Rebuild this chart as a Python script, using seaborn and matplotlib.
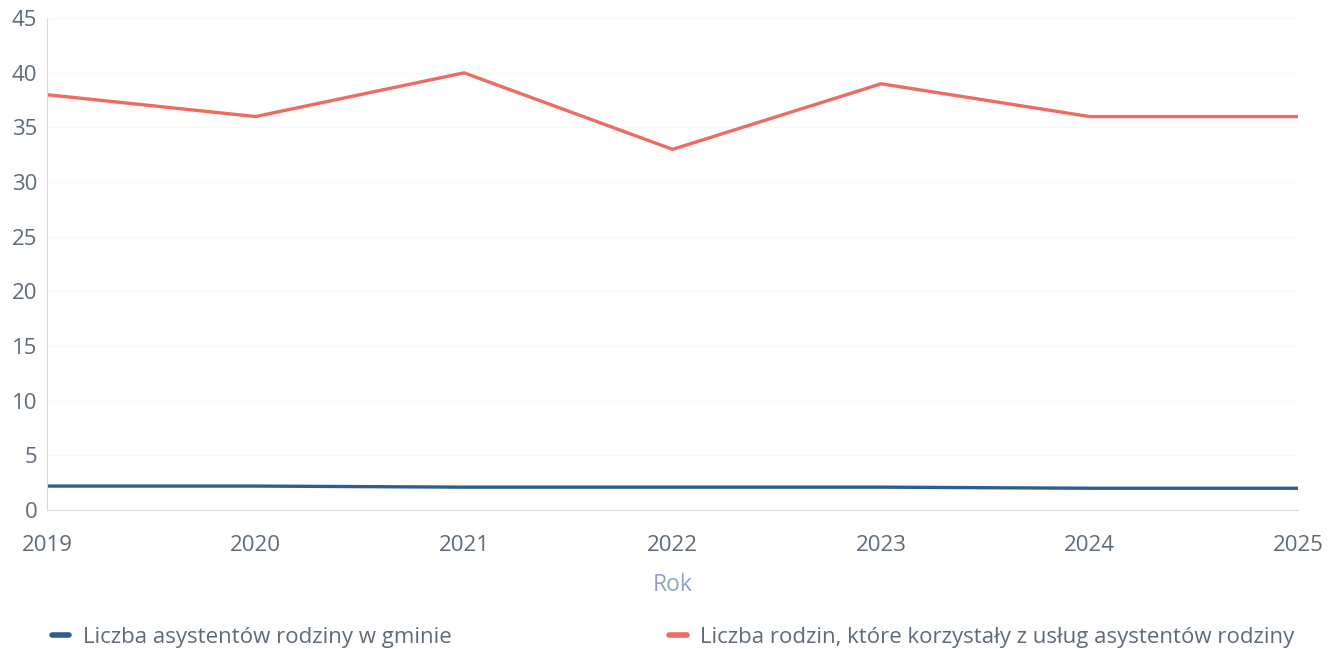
import matplotlib.pyplot as plt
import seaborn as sns
import pandas as pd

years = [2019, 2020, 2021, 2022, 2023, 2024, 2025]
asystenci = [2.2, 2.2, 2.1, 2.1, 2.1, 2.0, 2.0]
rodziny = [38, 36, 40, 33, 39, 36, 36]

label_asyst = "Liczba asystentów rodziny w gminie"
label_rodz = "Liczba rodzin, które korzystały z usług asystentów rodziny"

df = pd.DataFrame({"Rok": years, label_asyst: asystenci, label_rodz: rodziny})
long = df.melt(id_vars="Rok", var_name="Seria", value_name="Wartość")

sns.set_style("white")
plt.rcParams["font.family"] = ["Open Sans", "DejaVu Sans"]

fig = plt.figure(figsize=(13.34, 6.49), dpi=100)
ax = fig.add_axes([0.0352, 0.214, 0.938, 0.758])

palette = {label_asyst: "#2e5f8c", label_rodz: "#ef6a61"}
sns.lineplot(data=long, x="Rok", y="Wartość", hue="Seria", palette=palette,
             linewidth=2.4, ax=ax, legend=False)

ax.set_xlim(2019, 2025)
ax.set_ylim(0, 45)
ax.set_yticks(range(0, 46, 5))
ax.set_xticks(years)
ax.grid(axis="y", color="#f8f8fa", linewidth=1)
ax.tick_params(length=0, labelsize=16, labelcolor="#5d6b7a", pad=7)
ax.tick_params(axis="x", pad=18)
for s in ["top", "right"]:
    ax.spines[s].set_visible(False)
ax.spines["left"].set_color("#d6d8ec")
ax.spines["bottom"].set_color("#dcdde2")

ax.set_ylabel("")
ax.set_xlabel("Rok", fontsize=16.5, color="#8fa2c4", labelpad=12)

handles = [plt.Line2D([], [], color=palette[label_asyst], linewidth=4),
           plt.Line2D([], [], color=palette[label_rodz], linewidth=4)]
fig.legend(handles, [label_asyst, label_rodz], loc="lower left",
           bbox_to_anchor=(0.032, -0.012, 0.945, 0.05), mode="expand", ncol=2,
           frameon=False, fontsize=16, handlelength=0.8, handletextpad=0.6,
           labelcolor="#5d6b7a", borderaxespad=0.0)

plt.savefig("out.png", dpi=100)
plt.close()
